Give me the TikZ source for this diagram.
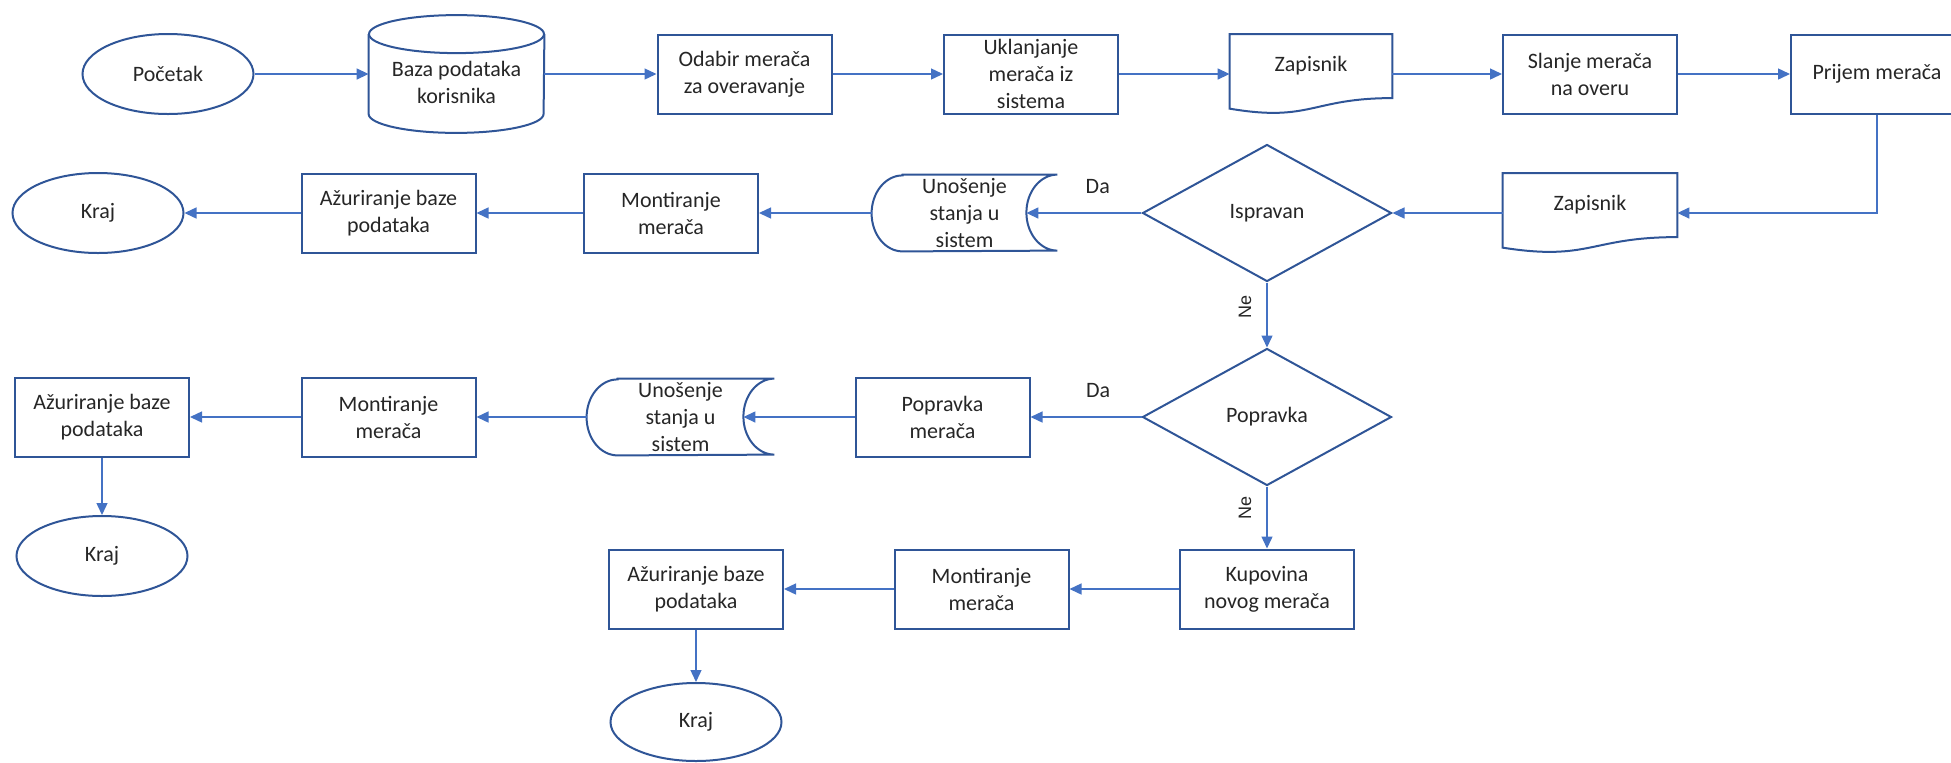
\documentclass[tikz,border=0pt]{standalone}
\usepackage{fontspec}
\setmainfont{Carlito}
\newfontfamily\arialfont{Liberation Sans}
\usetikzlibrary{arrows.meta, shapes.geometric, calc}
\definecolor{boxblue}{HTML}{2F5597}
\definecolor{arrowblue}{HTML}{4472C4}

% document sheet with wavy bottom
\newcommand{\docshape}[1]{%
	\draw[outline] (#1.north west) -- (#1.north east) -- ($(#1.north east)!0.802!(#1.south east)$)
		.. controls ($(#1.north)!0.802!(#1.south)$) and ($(#1.north)!1.107!(#1.south)$) .. ($(#1.north west)!0.934!(#1.south west)$) -- cycle;}
% stored data
\newcommand{\storedshape}[1]{%
	\draw[outline] ([xshift=15.5pt]#1.north west) -- (#1.north east)
		arc[start angle=90, end angle=270, x radius=15.5pt, y radius=19pt]
		-- ([xshift=15.5pt]#1.south west)
		arc[start angle=270, end angle=90, x radius=15.5pt, y radius=19pt] -- cycle;}

\begin{document}
\begin{tikzpicture}[x=0.5pt, y=-0.5pt, font=\fontsize{11}{13.5}\selectfont, text=black!85,
	outline/.style={draw=boxblue, line width=1pt},
	box/.style={outline, rectangle, minimum width=87pt, minimum height=39.5pt, align=center, inner sep=0.5pt},
	term/.style={outline, ellipse, minimum width=85.5pt, minimum height=40pt, inner sep=0pt},
	decision/.style={outline, diamond, minimum width=124.5pt, minimum height=68.5pt, inner sep=0pt},
	shapebox/.style={rectangle, align=center, inner sep=0pt, minimum height=39.5pt},
	flow/.style={draw=arrowblue, line width=0.7pt, -{Triangle[length=6pt, width=5.5pt]}},
	dalbl/.style={above=6pt},
	nelbl/.style={font=\arialfont\fontsize{9}{10}\selectfont}]
		\clip (0,0) rectangle (1951,762);
		%first row
			\node[term] (start) at (168,74) {Početak};
			\node[shapebox, minimum width=87.5pt, minimum height=58.5pt, label={[align=center, yshift=-4pt]center:{Baza podataka\\korisnika}}] (baza) at (456.5,74) {};
			\node[box] (odabir) at (744.5,74) {Odabir merača\\za overavanje};
			\node[box] (uklanjanje) at (1031,74) {Uklanjanje\\merača iz\\sistema};
			\node[shapebox, minimum width=81pt, label={[yshift=4pt]center:Zapisnik}] (zapisnik1) at (1311,74) {};
			\node[box] (slanje) at (1590,74) {Slanje merača\\na overu};
			\node[box, minimum width=86pt] (prijem) at (1877,74) {Prijem merača};
			% cylinder
			\draw[outline] ([yshift=-9.5pt]baza.north) ellipse[x radius=43.75pt, y radius=9.5pt];
			\draw[outline] ([yshift=-9.5pt]baza.north west) -- ([yshift=9.5pt]baza.south west)
				arc[start angle=180, end angle=360, x radius=43.75pt, y radius=9.5pt] -- ([yshift=-9.5pt]baza.north east);
			\docshape{zapisnik1}
		%second row
			\node[term] (kraj1) at (98,213) {Kraj};
			\node[box] (azur1) at (388.5,213) {Ažuriranje baze\\podataka};
			\node[box] (mont1) at (671,213) {Montiranje\\merača};
			\node[shapebox, minimum width=92.5pt, minimum height=38pt] (unos1) at (964.5,213) {Unošenje\\stanja u\\sistem};
			\node[decision] (ispravan) at (1267,213) {Ispravan};
			\node[shapebox, minimum width=87pt, label={[yshift=4pt]center:Zapisnik}] (zapisnik2) at (1590,213) {};
			\storedshape{unos1}
			\docshape{zapisnik2}
		%third row
			\node[box] (azur2) at (102,417) {Ažuriranje baze\\podataka};
			\node[box] (mont2) at (388.5,417) {Montiranje\\merača};
			\node[shapebox, minimum width=93.5pt, minimum height=38pt] (unos2) at (680.5,417) {Unošenje\\stanja u\\sistem};
			\node[box] (popravak) at (942.5,417) {Popravka\\merača};
			\node[decision] (popravka) at (1267,417) {Popravka};
			\node[term] (kraj2) at (102,556) {Kraj};
			\storedshape{unos2}
		%fourth row
			\node[box] (azur3) at (696,589) {Ažuriranje baze\\podataka};
			\node[box] (mont3) at (981.5,589) {Montiranje\\merača};
			\node[box] (kupovina) at (1267,589) {Kupovina\\novog merača};
			\node[term, minimum height=39pt] (kraj3) at (696,722) {Kraj};
		%arrows
			\draw[flow] (start) -- (baza);
			\draw[flow] (baza) -- (odabir);
			\draw[flow] (odabir) -- (uklanjanje);
			\draw[flow] (uklanjanje) -- (zapisnik1);
			\draw[flow] (zapisnik1) -- (slanje);
			\draw[flow] (slanje) -- (prijem);
			\draw[flow] (prijem.south) |- (zapisnik2.east);
			\draw[flow] (zapisnik2) -- (ispravan);
			\draw[flow] (ispravan) -- node[dalbl, pos=0.38] (da1) {Da} ([xshift=-15.5pt]unos1.east);
			\draw[flow] (unos1) -- (mont1);
			\draw[flow] (mont1) -- (azur1);
			\draw[flow] (azur1) -- (kraj1);
			\draw[flow] (ispravan) -- node[nelbl, pos=0.38, xshift=-11pt, rotate=90] (ne1) {Ne} (popravka);
			\draw[flow] (popravka) -- node[dalbl, pos=0.39] (da2) {Da} (popravak);
			\draw[flow] (popravak) -- ([xshift=-15.5pt]unos2.east);
			\draw[flow] (unos2) -- (mont2);
			\draw[flow] (mont2) -- (azur2);
			\draw[flow] (azur2) -- (kraj2);
			\draw[flow] (popravka) -- node[nelbl, pos=0.34, xshift=-11pt, rotate=90] (ne2) {Ne} (kupovina);
			\draw[flow] (kupovina) -- (mont3);
			\draw[flow] (mont3) -- (azur3);
			\draw[flow] (azur3) -- (kraj3);
\end{tikzpicture}
\end{document}
